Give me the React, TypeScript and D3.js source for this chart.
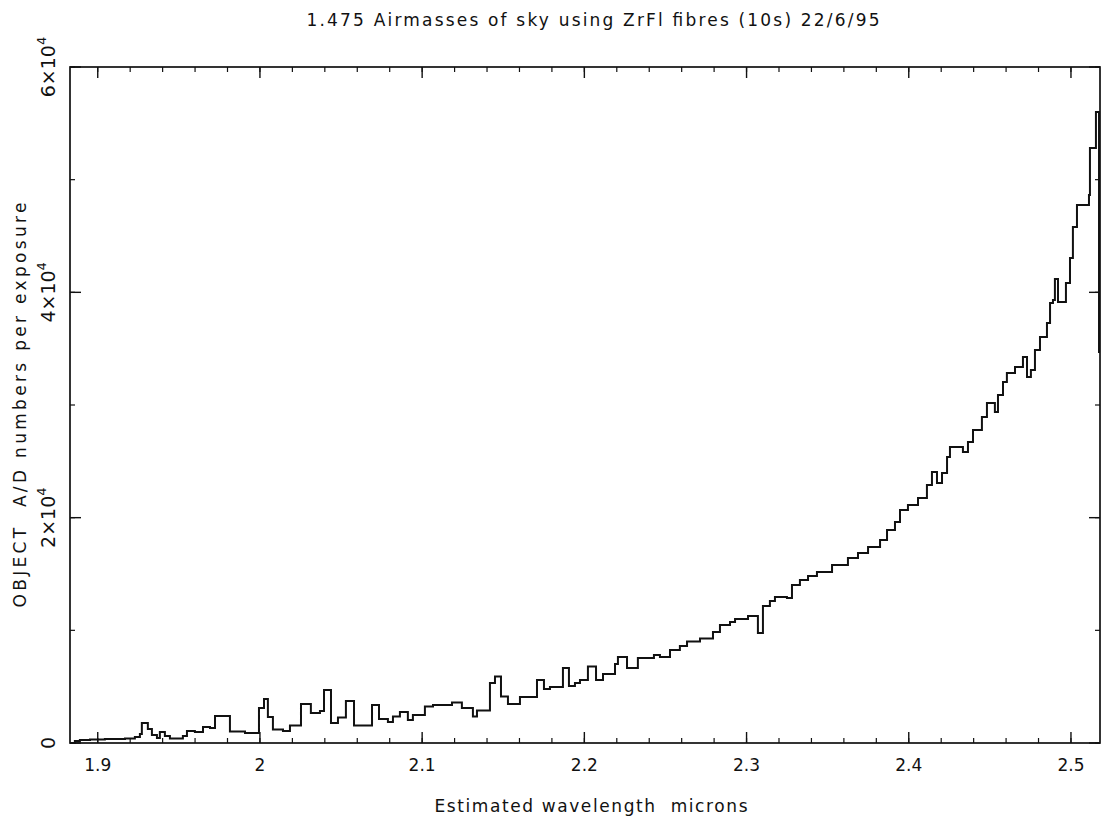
import React from "react";
import * as d3 from "d3";

// Step spectrum: each entry starts a step (wavelength in microns, A/D counts)
const wavelength = [
  1.8829, 1.8859, 1.889, 1.8952, 1.9044, 1.9168, 1.9229, 1.926, 1.9272, 1.9309,
  1.9334, 1.9365, 1.9383, 1.9414, 1.9445, 1.9525, 1.955, 1.9599, 1.9649, 1.9692,
  1.9723, 1.9815, 1.9908, 1.9994, 2.0025, 2.0049, 2.008, 2.0142, 2.0185, 2.0253,
  2.0314, 2.037, 2.0395, 2.0438, 2.0481, 2.053, 2.058, 2.0691, 2.0734, 2.0789,
  2.082, 2.0863, 2.0912, 2.0943, 2.1017, 2.1067, 2.1184, 2.1245, 2.1313, 2.1338,
  2.1418, 2.1449, 2.1486, 2.1529, 2.1603, 2.1708, 2.1751, 2.1788, 2.1868, 2.1905,
  2.1942, 2.1973, 2.2022, 2.2072, 2.2115, 2.2189, 2.2207, 2.2263, 2.233, 2.2429,
  2.2466, 2.2528, 2.2589, 2.2633, 2.2713, 2.2793, 2.2836, 2.2898, 2.2929, 2.3009,
  2.307, 2.3101, 2.3144, 2.3175, 2.3249, 2.328, 2.3329, 2.3379, 2.3434, 2.3527,
  2.3625, 2.3687, 2.3749, 2.3823, 2.3866, 2.3915, 2.3946, 2.3995, 2.4057, 2.4112,
  2.4143, 2.4174, 2.4205, 2.4236, 2.4254, 2.4334, 2.4365, 2.4396, 2.4451, 2.4482,
  2.4531, 2.455, 2.4581, 2.4605, 2.4655, 2.4704, 2.4729, 2.4753, 2.4778, 2.4809,
  2.4852, 2.4871, 2.4889, 2.4901, 2.492, 2.4969, 2.4994, 2.5012, 2.5037, 2.5111,
  2.5117, 2.5154, 2.5173, 2.5179,
];
const counts = [
  0, 178, 266, 311, 355, 399, 533, 799, 1775, 1243,
  710, 444, 976, 621, 399, 621, 1065, 976, 1420, 1331,
  2397, 1021, 888, 3107, 3905, 2308, 1198, 1065, 1553, 3462,
  2663, 2840, 4704, 1775, 2263, 3728, 1553, 3373, 2130, 1864,
  2352, 2752, 2041, 2485, 3240, 3373, 3595, 3107, 2352, 2885,
  5326, 5903, 4127, 3462, 4083, 5592, 4793, 4971, 6657, 5059,
  5326, 5592, 6790, 5592, 6124, 7012, 7633, 6657, 7545, 7811,
  7633, 8255, 8610, 9009, 9275, 9852, 10474, 10740, 11006, 11273,
  9764, 12160, 12604, 12959, 12870, 14024, 14468, 14823, 15178, 15799,
  16421, 16864, 17397, 18018, 18906, 19616, 20681, 21125, 21746, 22900,
  24054, 23078, 23965, 25385, 26273, 25829, 26717, 27782, 28936, 30178,
  29380, 30888, 32042, 32841, 33374, 34261, 32486, 33111, 34883, 36043,
  37279, 39054, 39321, 41185, 39143, 40831, 43049, 45800, 47753, 48640,
  52812, 56008, 34705, 34705,
];

const xDomain = [1.8829, 2.5179];
const yDomain = [0, 60000];
const xMajorTicks = [1.9, 2.0, 2.1, 2.2, 2.3, 2.4, 2.5];
const xTickLabels = ["1.9", "2", "2.1", "2.2", "2.3", "2.4", "2.5"];
const xMinorStep = 0.02;
const yMajorTicks = [0, 20000, 40000, 60000];
const yTickMantissa = ["0", "2", "4", "6"];
const yMinorStep = 10000;

const title = "1.475 Airmasses of sky using ZrFl fibres (10s) 22/6/95";
const xLabel = "Estimated wavelength  microns";
const yLabel = "OBJECT  A/D numbers per exposure";

const FONT = "'DejaVu Sans', 'Liberation Sans', sans-serif";

export default function App() {
  const W = 1110;
  const H = 823;
  const left = 70, right = 1100, top = 67, bottom = 743;
  const x = d3.scaleLinear().domain(xDomain).range([left, right]);
  const y = d3.scaleLinear().domain(yDomain).range([bottom, top]);

  const pts = wavelength.map((w, i) => [w, counts[i]] as [number, number]);
  const line = d3
    .line<[number, number]>()
    .x((d) => x(d[0]))
    .y((d) => y(d[1]))
    .curve(d3.curveStepAfter);

  const xMinor = d3
    .range(1.88, 2.52, xMinorStep)
    .filter((v) => v >= xDomain[0] && v <= xDomain[1]);
  const yMinor = d3.range(0, 60001, yMinorStep);

  const majorLen = 11;
  const minorLen = 5;
  const col = "#111";

  return (
    <svg
      width={W}
      height={H}
      viewBox={`0 0 ${W} ${H}`}
      style={{ position: "absolute", left: 0, top: 0, background: "#fff" }}
    >
      <rect x={0} y={0} width={W} height={H} fill="#fff" />
      {/* title */}
      <text
        x={593}
        y={26}
        textAnchor="middle"
        fontFamily={FONT}
        fontSize={17}
        fill={col}
        textLength={573}
        lengthAdjust="spacing"
      >
        {title}
      </text>

      {/* frame */}
      <rect
        x={left}
        y={top}
        width={right - left}
        height={bottom - top}
        fill="none"
        stroke={col}
        strokeWidth={1.7}
      />

      {/* x ticks (bottom and top, inward) */}
      {xMinor.map((v, i) => (
        <g key={"xm" + i}>
          <line x1={x(v)} x2={x(v)} y1={bottom} y2={bottom - minorLen} stroke={col} strokeWidth={1.2} />
          <line x1={x(v)} x2={x(v)} y1={top} y2={top + minorLen} stroke={col} strokeWidth={1.2} />
        </g>
      ))}
      {xMajorTicks.map((v, i) => (
        <g key={"xM" + i}>
          <line x1={x(v)} x2={x(v)} y1={bottom} y2={bottom - majorLen} stroke={col} strokeWidth={1.4} />
          <line x1={x(v)} x2={x(v)} y1={top} y2={top + majorLen} stroke={col} strokeWidth={1.4} />
          <text
            x={x(v)}
            y={771}
            textAnchor="middle"
            fontFamily={FONT}
            fontSize={17}
            fill={col}
          >
            {xTickLabels[i]}
          </text>
        </g>
      ))}

      {/* y ticks (left and right, inward) */}
      {yMinor.map((v, i) => (
        <g key={"ym" + i}>
          <line x1={left} x2={left + minorLen} y1={y(v)} y2={y(v)} stroke={col} strokeWidth={1.2} />
          <line x1={right} x2={right - minorLen} y1={y(v)} y2={y(v)} stroke={col} strokeWidth={1.2} />
        </g>
      ))}
      {yMajorTicks.map((v, i) => (
        <g key={"yM" + i}>
          <line x1={left} x2={left + majorLen} y1={y(v)} y2={y(v)} stroke={col} strokeWidth={1.4} />
          <line x1={right} x2={right - majorLen} y1={y(v)} y2={y(v)} stroke={col} strokeWidth={1.4} />
          <text
            transform={`translate(55,${y(v)}) rotate(-90)`}
            textAnchor="middle"
            fontFamily={FONT}
            fontSize={19}
            fill={col}
          >
            {v === 0 ? (
              yTickMantissa[i]
            ) : (
              <>
                {yTickMantissa[i] + "×10"}
                <tspan dy={-9} fontSize={13}>
                  4
                </tspan>
              </>
            )}
          </text>
        </g>
      ))}

      {/* spectrum */}
      <path d={line(pts) || ""} fill="none" stroke={col} strokeWidth={2} strokeLinejoin="miter" />

      {/* axis labels */}
      <text
        x={591}
        y={812}
        textAnchor="middle"
        fontFamily={FONT}
        fontSize={17}
        fill={col}
        textLength={313}
        lengthAdjust="spacing"
        style={{ whiteSpace: "pre" }}
      >
        {xLabel}
      </text>
      <text
        transform={`translate(26,405) rotate(-90)`}
        textAnchor="middle"
        fontFamily={FONT}
        fontSize={17}
        fill={col}
        textLength={405}
        lengthAdjust="spacing"
        style={{ whiteSpace: "pre" }}
      >
        {yLabel}
      </text>
    </svg>
  );
}
